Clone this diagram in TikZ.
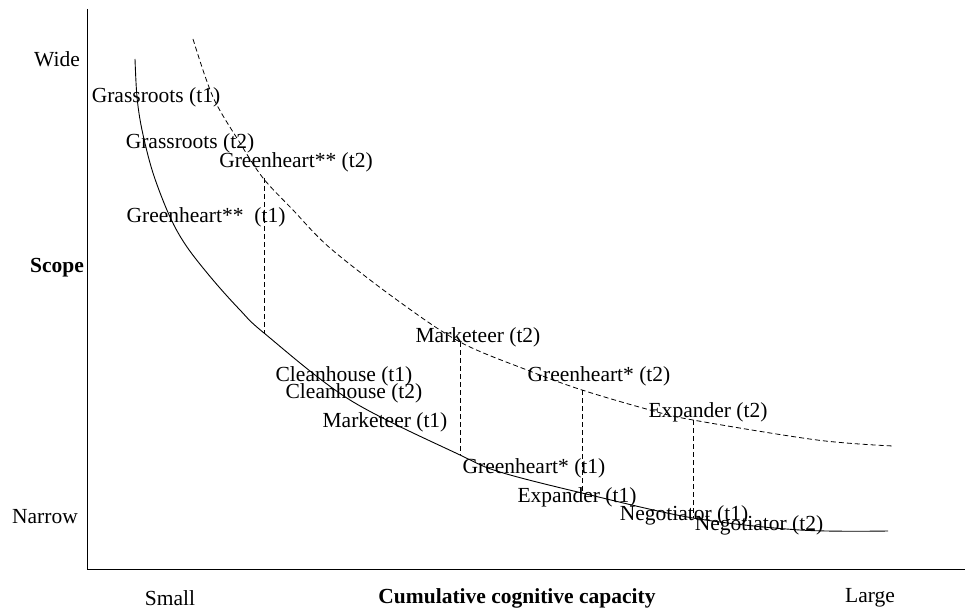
\documentclass[tikz,border=0pt]{standalone}
\usepackage{fontspec}
\setmainfont{Liberation Serif}
\begin{document}
\begin{tikzpicture}[x=1pt,y=-1pt,
  lab/.style={inner sep=0pt, font=\fontsize{21.5}{24}\selectfont},
  axislab/.style={lab, font=\fontsize{21.5}{24}\selectfont\bfseries},
  axis/.style={line width=0.9pt, black},
  curve/.style={line width=0.9pt},
  shifted/.style={line width=0.8pt, dash pattern=on 5pt off 3pt},
  drop/.style={line width=0.8pt, dash pattern=on 5pt off 3pt}]
\useasboundingbox (0,0) rectangle (965,612);

% axes
\coordinate (ytop) at (87,9);
\coordinate (orig) at (87,569);
\coordinate (xend) at (965,569);
\draw[axis] (ytop) -- (orig) -- (xend);

% axis labels
\node[lab] (wide) at (57,59) {Wide};
\node[axislab] (scope) at (57,268) {Scope};
\node[lab] (narrow) at (45,517) {Narrow};
\node[lab] (small) at (170,598) {Small};
\node[axislab] (ccc) at (517,598) {Cumulative cognitive capacity};
\node[lab] (large) at (870,598) {Large};

% capacity curve at t1 (solid)
\draw[curve] plot[smooth, tension=0.55] coordinates {
  (135,59) (137,97) (142,130) (153,173) (170,217) (187,247) (213,280)
  (240,310) (264,333) (350,400) (460,455) (500,472) (582,493) (693,518)
  (800,530) (888,531)};

% capacity curve at t2 (dashed)
\draw[shifted] plot[smooth, tension=0.55] coordinates {
  (193,39) (213,97) (240,143) (263,178) (293,210) (330,248) (397,300)
  (460,342) (527,370) (582,390) (650,410) (693,420) (817,440) (893,446)};

% points on both curves joined by vertical drops
\coordinate (u1) at (264,178); \coordinate (l1) at (264,333);
\coordinate (u2) at (460,342); \coordinate (l2) at (460,455);
\coordinate (u3) at (582,390); \coordinate (l3) at (582,493);
\coordinate (u4) at (693,420); \coordinate (l4) at (693,518);
\draw[drop] (u1) -- (l1);
\draw[drop] (u2) -- (l2);
\draw[drop] (u3) -- (l3);
\draw[drop] (u4) -- (l4);

% organisations
\node[lab] (gr1) at (156,97) {Grassroots (t1)};
\node[lab] (gr2) at (190,143) {Grassroots (t2)};
\node[lab] (ghh2) at (296,162) {Greenheart** (t2)};
\node[lab] (ghh1) at (206,217) {Greenheart**~~(t1)};
\node[lab] (mk2) at (478,337) {Marketeer (t2)};
\node[lab] (ch1) at (344,376) {Cleanhouse (t1)};
\node[lab] (ch2) at (354,393) {Cleanhouse (t2)};
\node[lab] (mk1) at (385,422) {Marketeer (t1)};
\node[lab] (gh2) at (599,376) {Greenheart* (t2)};
\node[lab] (ex2) at (708,412) {Expander (t2)};
\node[lab] (gh1) at (534,468) {Greenheart* (t1)};
\node[lab] (ex1) at (577,497) {Expander (t1)};
\node[lab] (ng1) at (684,515) {Negotiator (t1)};
\node[lab] (ng2) at (759,525) {Negotiator (t2)};
\end{tikzpicture}
\end{document}
